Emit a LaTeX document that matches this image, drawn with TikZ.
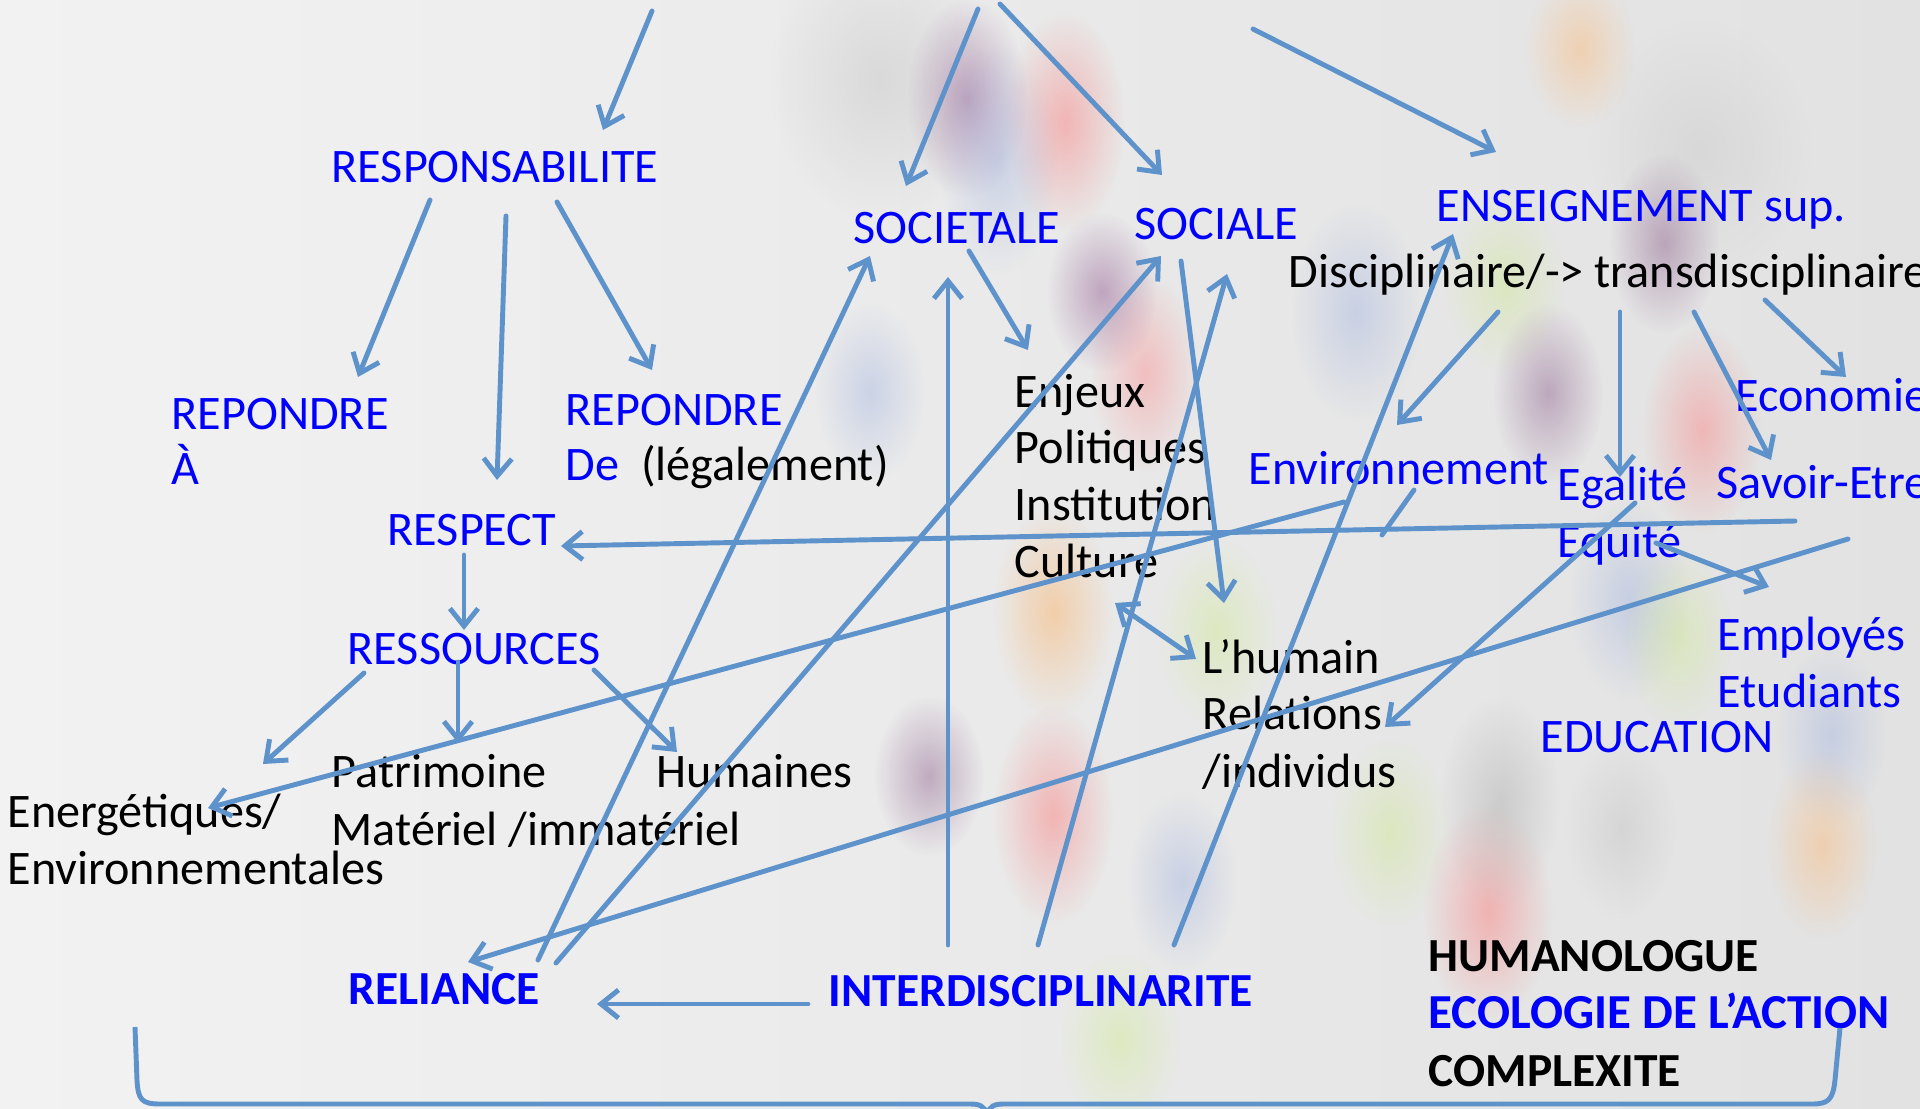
\documentclass[tikz,border=0pt]{standalone}
\usepackage{fontspec}
\setmainfont{Carlito}
\usepackage{xcolor}
\usepackage{tikz}
\usetikzlibrary{arrows.meta,fadings}
\definecolor{mapblue}{RGB}{0,0,255}
\definecolor{linkblue}{RGB}{93,146,203}
\definecolor{bgleft}{RGB}{242,242,242}
\definecolor{bgright}{RGB}{226,226,226}
\tikzfading[name=blobfade, inner color=transparent!0, outer color=transparent!100]
\tikzset{
  word/.style={anchor=base west, inner sep=0pt, font=\fontsize{13.7}{16}\selectfont},
  key/.style={word, text=mapblue},
  plain/.style={word, text=black},
  boldkey/.style={key, font=\fontsize{13.5}{16}\selectfont\bfseries},
  boldplain/.style={plain, font=\fontsize{13.5}{16}\selectfont\bfseries},
  link/.style={draw=linkblue, line width=1.4pt, line cap=round, ->},
  >={Straight Barb[length=5pt,width=8pt]}
}
\newcommand{\blob}[5]{\fill[#1, opacity=.4, path fading=blobfade] (#2,#3) ellipse (#4 and #5);}

\begin{document}
\begin{tikzpicture}[x=0.01cm, y=-0.01cm]
  \useasboundingbox (0,0) rectangle (1920,1109);
  \shade[left color=bgleft, right color=bgright] (0,0) rectangle (1920,1109);
  \blob{gray!50}{880}{80}{110}{140}
  \blob{gray!45}{1700}{150}{110}{130}
  \blob{violet!50!gray}{967}{98}{60}{100}
  \blob{red!60}{1065}{122}{60}{110}
  \blob{cyan!40!blue!40}{998}{160}{60}{115}
  \blob{cyan!40!blue!40}{870}{392}{55}{90}
  \blob{red!50}{1145}{373}{55}{100}
  \blob{violet!50!gray}{1102}{292}{55}{80}
  \blob{orange!70}{1053}{612}{60}{105}
  \blob{red!60}{1053}{815}{60}{110}
  \blob{violet!40!gray}{929}{776}{55}{80}
  \blob{red!60}{1488}{912}{65}{110}
  \blob{cyan!40!blue!40}{1356}{312}{65}{110}
  \blob{yellow!60!green!50}{1504}{282}{60}{90}
  \blob{orange!60}{1580}{49}{55}{80}
  \blob{violet!40!gray}{1548}{393}{55}{90}
  \blob{violet!40!gray}{1664}{243}{55}{90}
  \blob{red!55}{1702}{430}{60}{105}
  \blob{cyan!40!blue!40}{1629}{600}{60}{100}
  \blob{yellow!60!green!50}{1678}{637}{55}{90}
  \blob{yellow!60!green!50}{1217}{632}{60}{95}
  \blob{cyan!40!blue!40}{1831}{735}{55}{90}
  \blob{orange!60}{1822}{845}{55}{95}
  \blob{yellow!60!green!50}{1390}{833}{60}{95}
  \blob{gray!70}{1500}{802}{60}{105}
  \blob{gray!50}{1621}{829}{55}{90}
  \blob{cyan!40!blue!40}{1182}{882}{55}{90}
  \blob{yellow!60!green!50}{1120}{1041}{60}{90}

  \node[key] (respons) at (331,182) {RESPONSABILITE};
  \node[key] (repa) at (171,429) {REPONDRE};
  \node[key] (repa2) at (171,484) {À};
  \node[key] (repde) at (565,425) {REPONDRE};
  \node[key] (repde2) at (565,480) {De\ \ \textcolor{black}{(légalement)}};
  \node[key] (respect) at (387,545) {RESPECT};
  \node[key] (ressources) at (347,664) {RESSOURCES};
  \node[plain] (energ) at (7,827) {Energétiques/};
  \node[plain] (energ2) at (7,884) {Environnementales};
  \node[plain] (patri) at (331,787) {Patrimoine};
  \node[plain] (patri2) at (331,845) {Matériel /immatériel};
  \node[plain] (humaines) at (656,787) {Humaines};
  \node[boldkey] (reliance) at (348,1004) {RELIANCE};
  \node[boldkey] (interd) at (828,1006) {INTERDISCIPLINARITE};
  \node[key] (societale) at (853,243) {SOCIETALE};
  \node[key] (sociale) at (1134,239) {SOCIALE};
  \node[plain] (enjeux) at (1014,407) {Enjeux};
  \node[plain] (politiques) at (1014,463) {Politiques};
  \node[plain] (institution) at (1014,520) {Institution};
  \node[plain] (culture) at (1014,577) {Culture};
  \node[key] (environ) at (1248,484) {Environnement};
  \node[key] (enseign) at (1436,221) {ENSEIGNEMENT sup.};
  \node[plain] (discipl) at (1288,287) {Disciplinaire/-> transdisciplinaire};
  \node[key] (economie) at (1735,411) {Economie};
  \node[key] (egalite) at (1557,500) {Egalité};
  \node[key] (equite) at (1557,557) {Equité};
  \node[key] (savoir) at (1716,498) {Savoir-Etre};
  \node[key] (employes) at (1717,650) {Employés};
  \node[key] (etudiants) at (1717,707) {Etudiants};
  \node[key] (education) at (1540,752) {EDUCATION};
  \node[plain] (lhumain) at (1202,673) {L’humain};
  \node[plain] (relations) at (1202,729) {Relations};
  \node[plain] (individus) at (1202,787) {/individus};
  \node[boldplain] (humano) at (1428,971) {HUMANOLOGUE};
  \node[boldkey, font=\fontsize{13.9}{16}\selectfont\bfseries] (ecologie) at (1428,1028) {ECOLOGIE DE L’ACTION};
  \node[boldplain] (complex) at (1428,1086) {COMPLEXITE};

  \coordinate (top-a) at (652,11);   \coordinate (respons-in) at (603,130);
  \coordinate (top-b) at (978,9);    \coordinate (societale-in) at (906,186);
  \coordinate (top-c) at (1000,4);   \coordinate (sociale-in) at (1162,175);
  \coordinate (top-d) at (1253,29);  \coordinate (enseign-in) at (1496,152);
  \coordinate (respons-1) at (430,200); \coordinate (repa-in) at (358,377);
  \coordinate (respons-2) at (506,216); \coordinate (respect-in) at (497,480);
  \coordinate (respons-3) at (557,202); \coordinate (repde-in) at (652,370);
  \coordinate (respect-out) at (464,555); \coordinate (ressources-in) at (464,630);
  \coordinate (ressources-1) at (364,673); \coordinate (energ-in) at (263,764);
  \coordinate (ressources-2) at (458,662); \coordinate (patri-in) at (458,743);
  \coordinate (ressources-3) at (594,670); \coordinate (humaines-in) at (677,752);
  \coordinate (interd-out) at (808,1004); \coordinate (reliance-in) at (597,1004);
  \coordinate (reliance-1) at (538,960); \coordinate (societale-up) at (870,256);
  \coordinate (reliance-2) at (556,963); \coordinate (sociale-up) at (1161,256);
  \coordinate (interd-1) at (948,945); \coordinate (societale-up2) at (948,277);
  \coordinate (interd-2) at (1038,945); \coordinate (sociale-up2) at (1227,274);
  \coordinate (interd-3) at (1174,945); \coordinate (enseign-up) at (1453,234);
  \coordinate (societale-out) at (969,251); \coordinate (enjeux-in) at (1028,350);
  \coordinate (sociale-out) at (1181,261); \coordinate (lhumain-top) at (1224,603);
  \coordinate (culture-end) at (1115,603); \coordinate (lhumain-in) at (1196,659);
  \coordinate (discipl-1) at (1498,312); \coordinate (environ-in) at (1397,425);
  \coordinate (discipl-2) at (1620,312); \coordinate (egalite-in) at (1620,477);
  \coordinate (discipl-3) at (1694,312); \coordinate (savoir-in) at (1771,460);
  \coordinate (discipl-4) at (1765,300); \coordinate (economie-in) at (1846,377);
  \coordinate (savoir-out) at (1795,521); \coordinate (respect-end) at (561,546);
  \coordinate (environ-out) at (1344,502); \coordinate (energ-end) at (208,808);
  \coordinate (environ-a) at (1414,490); \coordinate (environ-b) at (1382,535);
  \coordinate (egalite-out) at (1635,503); \coordinate (relations-in) at (1385,727);
  \coordinate (equite-out) at (1656,543); \coordinate (employes-in) at (1769,587);
  \coordinate (savoir-out2) at (1848,539); \coordinate (reliance-end) at (468,962);

  \draw[link] (top-a) -- (respons-in);
  \draw[link] (top-b) -- (societale-in);
  \draw[link] (top-c) -- (sociale-in);
  \draw[link] (top-d) -- (enseign-in);
  \draw[link] (respons-1) -- (repa-in);
  \draw[link] (respons-2) -- (respect-in);
  \draw[link] (respons-3) -- (repde-in);
  \draw[link] (respect-out) -- (ressources-in);
  \draw[link] (ressources-1) -- (energ-in);
  \draw[link] (ressources-2) -- (patri-in);
  \draw[link] (ressources-3) -- (humaines-in);
  \draw[link] (interd-out) -- (reliance-in);
  \draw[link] (reliance-1) -- (societale-up);
  \draw[link] (reliance-2) -- (sociale-up);
  \draw[link] (interd-1) -- (societale-up2);
  \draw[link] (interd-2) -- (sociale-up2);
  \draw[link] (interd-3) -- (enseign-up);
  \draw[link] (societale-out) -- (enjeux-in);
  \draw[link] (sociale-out) -- (lhumain-top);
  \draw[link, <->] (culture-end) -- (lhumain-in);
  \draw[link] (discipl-1) -- (environ-in);
  \draw[link] (discipl-2) -- (egalite-in);
  \draw[link] (discipl-3) -- (savoir-in);
  \draw[link] (discipl-4) -- (economie-in);
  \draw[link] (savoir-out) -- (respect-end);
  \draw[link] (environ-out) -- (energ-end);
  \draw[link, -] (environ-a) -- (environ-b);
  \draw[link] (egalite-out) -- (relations-in);
  \draw[link] (equite-out) -- (employes-in);
  \draw[link] (savoir-out2) -- (reliance-end);

  \draw[draw=linkblue, line width=1.4pt] (135,1027) -- (137,1080)
    .. controls (138,1100) and (142,1104) .. (160,1104) -- (970,1104)
    .. controls (980,1104) and (984,1106) .. (987,1114)
    .. controls (990,1106) and (994,1104) .. (1004,1104) -- (1812,1104)
    .. controls (1828,1104) and (1833,1100) .. (1835,1080) -- (1840,1028);
\end{tikzpicture}
\end{document}
